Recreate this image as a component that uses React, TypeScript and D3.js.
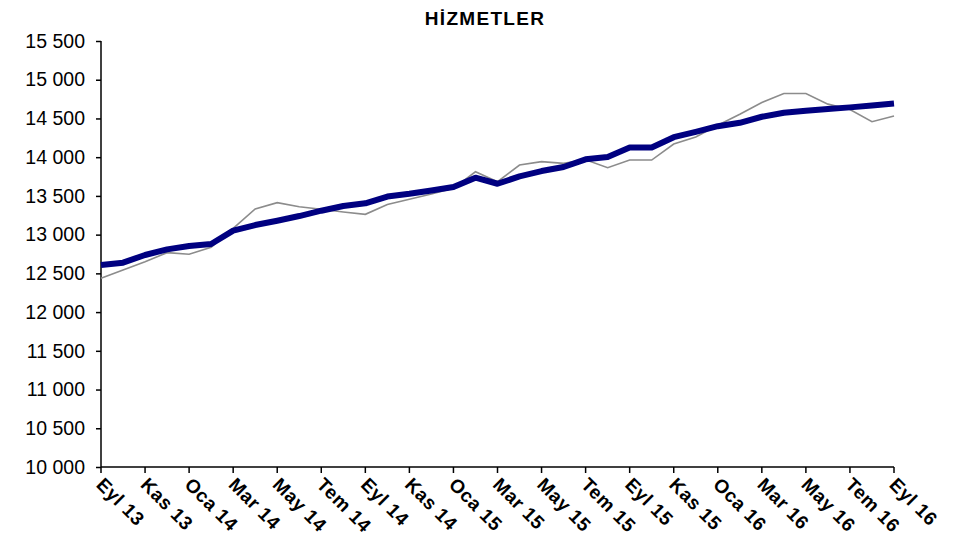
import React, { useEffect, useRef } from 'react';
import * as d3 from 'd3';

const months = ['Eyl', 'Eki', 'Kas', 'Ara', 'Oca', 'Şub', 'Mar', 'Nis', 'May', 'Haz', 'Tem', 'Ağu'];

// aylar: Eyl 13 .. Eyl 16
const labels: string[] = [];
for (let i = 0; i < 37; i++) {
  const yr = 13 + Math.floor((8 + i) / 12);
  labels.push(`${months[i % 12]} ${yr}`);
}

const rawSeries = [
  12436, 12544, 12651, 12767, 12746, 12836, 13082, 13331, 13413, 13361,
  13327, 13292, 13262, 13388, 13456, 13525, 13598, 13812, 13683, 13899,
  13942, 13920, 13967, 13864, 13963, 13963, 14170, 14260, 14413, 14555,
  14707, 14823, 14823, 14685, 14616, 14458, 14531,
];

const trendSeries = [
  12608, 12638, 12737, 12810, 12853, 12879, 13051, 13124, 13180, 13240,
  13309, 13370, 13404, 13492, 13528, 13571, 13614, 13735, 13657, 13752,
  13821, 13873, 13972, 14002, 14124, 14124, 14258, 14327, 14400, 14444,
  14522, 14574, 14600, 14622, 14643, 14668, 14694,
];

const yTicks = d3.range(10000, 15501, 500);

const App = () => {
  const ref = useRef<SVGSVGElement>(null);

  useEffect(() => {
    if (!ref.current) return;
    const svg = d3.select(ref.current);
    svg.selectAll('*').remove();

    const left = 101, right = 894, top = 41, bottom = 467;
    const font = 'Arial, "Liberation Sans", sans-serif';

    const x = d3.scaleLinear().domain([0, labels.length - 1]).range([left, right]);
    const y = d3.scaleLinear().domain([10000, 15500]).range([bottom, top]);

    const fmt = (v: number) => d3.format(',')(v).replace(/,/g, ' ');

    // başlık
    svg.append('text')
      .attr('x', 485)
      .attr('y', 25)
      .attr('text-anchor', 'middle')
      .style('font-family', font)
      .style('font-weight', 'bold')
      .style('font-size', '19px')
      .style('letter-spacing', '1.3px')
      .text('HİZMETLER');

    // Y ekseni
    svg.append('g')
      .attr('transform', `translate(${left},0)`)
      .call(d3.axisLeft(y).tickValues(yTicks).tickSize(5).tickPadding(11).tickFormat(d => fmt(+d)))
      .call(g => g.select('.domain').attr('stroke', '#000').attr('stroke-width', 1.5).attr('d', `M0,${top}V${bottom}`))
      .call(g => g.selectAll('.tick line').attr('stroke', '#000').attr('stroke-width', 1.5))
      .call(g => g.selectAll('.tick text')
        .style('font-family', font)
        .style('font-size', '19.5px')
        .attr('fill', '#000'));

    // X ekseni
    const xIdx = d3.range(0, labels.length, 2);
    const xg = svg.append('g').attr('transform', `translate(0,${bottom})`);
    xg.append('line')
      .attr('x1', left).attr('x2', right)
      .attr('stroke', '#000').attr('stroke-width', 1.5);
    xg.selectAll('line.tk')
      .data(xIdx)
      .enter().append('line')
      .attr('class', 'tk')
      .attr('x1', d => x(d)).attr('x2', d => x(d))
      .attr('y1', 0).attr('y2', 6)
      .attr('stroke', '#000').attr('stroke-width', 1.5);
    xg.selectAll('text')
      .data(xIdx)
      .enter().append('text')
      .attr('transform', d => `translate(${x(d) + 4},${9}) rotate(45)`)
      .attr('dy', '0.72em')
      .style('font-family', font)
      .style('font-weight', 'bold')
      .style('font-size', '19px')
      .style('letter-spacing', '0.6px')
      .text(d => labels[d]);

    const line = d3.line<number>()
      .x((_, i) => x(i))
      .y(d => y(d));

    svg.append('path')
      .datum(rawSeries)
      .attr('fill', 'none')
      .attr('stroke', '#8c8c8c')
      .attr('stroke-width', 1.6)
      .attr('d', line);

    svg.append('path')
      .datum(trendSeries)
      .attr('fill', 'none')
      .attr('stroke', '#000080')
      .attr('stroke-width', 6)
      .attr('stroke-linejoin', 'round')
      .attr('d', line);
  }, []);

  return (
    <svg ref={ref} width={970} height={550}
      style={{ position: 'absolute', left: 0, top: 0, background: '#fff' }} />
  );
};

export default App;
